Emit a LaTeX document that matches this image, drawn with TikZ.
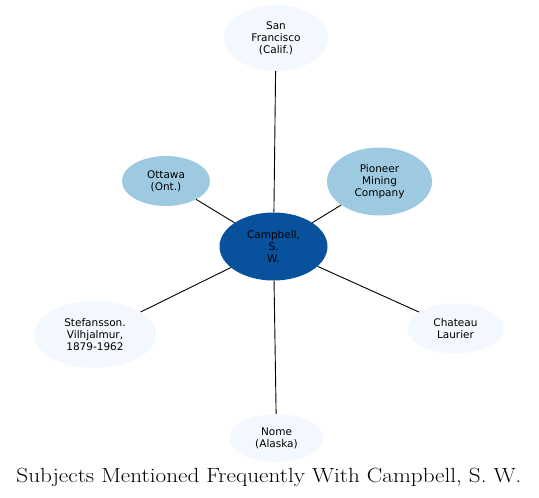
\documentclass[tikz,border=0pt]{standalone}
\usepackage{fontspec}
\setsansfont{DejaVu Sans}
\usetikzlibrary{shapes.geometric}
\definecolor{pale}{HTML}{F3F8FE}
\definecolor{mid}{HTML}{9ECAE1}
\definecolor{dark}{HTML}{08519C}
\tikzset{
  ell/.style={ellipse, draw=none, inner sep=0pt, align=center,
    font=\sffamily\fontsize{10.5}{12}\selectfont, text=black},
  edge/.style={draw=black, line width=0.9pt}
}
\begin{document}
\begin{tikzpicture}[x=1pt,y=-1pt]
\useasboundingbox (0,0) rectangle (539,498);
\node[ell, fill=dark, minimum width=108pt, minimum height=68pt] (c) at (273.5,246.5) {Campbell,\\S.\\W.};
\node[ell, fill=pale, minimum width=104pt, minimum height=66pt] (sf) at (276,38) {San\\Francisco\\(Calif.)};
\node[ell, fill=mid, minimum width=88pt, minimum height=50pt] (ot) at (166,181) {Ottawa\\(Ont.)};
\node[ell, fill=mid, minimum width=105pt, minimum height=68pt] (pm) at (379.5,181.5) {Pioneer\\Mining\\Company};
\node[ell, fill=pale, minimum width=122pt, minimum height=67pt] (st) at (95,334.5) {Stefansson.\\Vilhjalmur,\\1879-1962};
\node[ell, fill=pale, minimum width=96pt, minimum height=50pt] (ch) at (455.5,328.5) {Chateau\\Laurier};
\node[ell, fill=pale, minimum width=94pt, minimum height=48pt] (no) at (276.5,438) {Nome\\(Alaska)};
\draw[edge] (c) -- (sf);
\draw[edge] (c) -- (ot);
\draw[edge] (c) -- (pm);
\draw[edge] (c) -- (st);
\draw[edge] (c) -- (ch);
\draw[edge] (c) -- (no);
\node[anchor=base, font=\fontsize{20.5}{24}\selectfont, inner sep=0pt] (title) at (269,482) {\scalebox{1.13}[1]{Subjects Mentioned Frequently With Campbell, S. W.}};
\end{tikzpicture}
\end{document}
